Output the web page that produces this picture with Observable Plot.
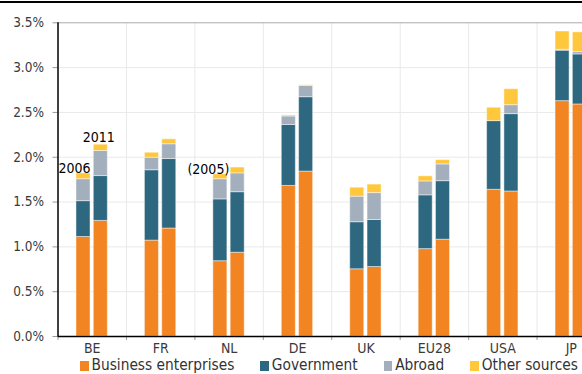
<!DOCTYPE html>
<html>
<head>
<meta charset="utf-8">
<script src="https://cdn.jsdelivr.net/npm/d3@7"></script>
<script src="https://cdn.jsdelivr.net/npm/@observablehq/plot@0.6"></script>
<style>
  html, body { margin: 0; padding: 0; background: #fff; }
  #wrap {
    position: relative; width: 582px; height: 374px; overflow: hidden;
    font-family: "DejaVu Sans Condensed", "DejaVu Sans", sans-serif; font-stretch: condensed;
  }
  #topline { position: absolute; left: 0; top: 1px; width: 582px; height: 2px; background: #000; }
  #chart { position: absolute; left: 0; top: 0; width: 605px; }
  #chart svg { max-width: none !important; }
  #legend {
    position: absolute; left: 80px; top: 359px; display: flex; align-items: center;
    font-size: 15.3px; color: #333; white-space: nowrap; line-height: 13px;
  }
  #legend .item { display: flex; align-items: center; margin-right: 26px; }
  #legend .sw { width: 8.5px; height: 10px; margin-right: 3px; }
</style>
</head>
<body>
<div id="wrap">
  <div id="chart"></div>
  <div id="topline"></div>
  <div id="legend"></div>
</div>
<script>
// R&D expenditure as % of GDP, by source of funds; two periods per country
const countries = ["BE", "FR", "NL", "DE", "UK", "EU28", "USA", "JP"];
const periods = ["2006", "2011"]; // NL's earlier period is 2005
const sources = ["Business enterprises", "Government", "Abroad", "Other sources"];
const colors = ["#F28521", "#2D6880", "#A4AFBD", "#FFC73C"];

// [earlier, later] per country, % of GDP
const business   = [[1.11, 1.29], [1.07, 1.205], [0.84, 0.935], [1.68, 1.84], [0.75, 0.775], [0.975, 1.08], [1.637, 1.618], [2.626, 2.589]];
const government = [[0.40, 0.50], [0.785, 0.775], [0.69, 0.675], [0.68, 0.83], [0.525, 0.525], [0.60, 0.653], [0.766, 0.863], [0.563, 0.558]];
const abroad     = [[0.245, 0.28], [0.14, 0.165], [0.225, 0.21], [0.095, 0.125], [0.285, 0.30], [0.155, 0.187], [0.0, 0.10], [0.01, 0.026]];
const other      = [[0.065, 0.07], [0.055, 0.055], [0.055, 0.065], [0.012, 0.008], [0.10, 0.095], [0.057, 0.048], [0.149, 0.178], [0.204, 0.22]];

// Year labels drawn above the first bars
const notes = [
  {country: "BE", slot: 0, label: "2006", dx: -9, dy: 0},
  {country: "BE", slot: 1, label: "2011", dx: -2, dy: -3},
  {country: "NL", slot: 0, label: "(2005)", dx: -12, dy: 0}
];

// Bar layout within each country's band (fractions of the band)
const barStart = [0.27, 0.523];
const barWidth = 0.205;

const series = [business, government, abroad, other];
const rows = [];
const totals = {};
countries.forEach((country, i) => {
  [0, 1].forEach(slot => {
    let base = 0;
    series.forEach((arr, k) => {
      const v = arr[i][slot];
      rows.push({country, index: i, slot, source: sources[k], y1: base, y2: base + v});
      base += v;
    });
    totals[country + slot] = base;
  });
});

const barX1 = d => d.index + barStart[d.slot];
const barX2 = d => d.index + barStart[d.slot] + barWidth;

const yTicks = d3.range(0, 3.51, 0.5);

const chart = Plot.plot({
  width: 605,
  height: 356,
  marginLeft: 57.5,
  marginRight: 0,
  marginTop: 22.3,
  marginBottom: 20,
  style: {fontFamily: "'DejaVu Sans Condensed', 'DejaVu Sans', sans-serif", fontStretch: "condensed", background: "transparent", maxWidth: "none"},
  x: {domain: [0, countries.length], label: null},
  y: {domain: [0, 3.5], label: null},
  color: {domain: sources, range: colors},
  marks: [
    Plot.gridY({ticks: yTicks.filter(t => t > 0 && t < 3.5), stroke: "#e9e9e9", strokeOpacity: 1}),
    Plot.gridX({ticks: d3.range(1, countries.length + 1), stroke: "#e9e9e9", strokeOpacity: 1}),
    Plot.ruleY([3.5], {stroke: "#aaa"}),
    Plot.rect(rows, {
      x1: barX1, x2: barX2, y1: "y1", y2: "y2", fill: "source",
      stroke: "#fff", strokeOpacity: 0.45, strokeWidth: 1
    }),
    ...notes.map(n => Plot.text([n], {
      x: d => countries.indexOf(d.country) + barStart[d.slot] + barWidth / 2,
      y: d => totals[d.country + d.slot],
      text: "label",
      lineAnchor: "bottom",
      dx: n.dx, dy: n.dy,
      fontSize: 14,
      fill: "#000"
    })),
    Plot.axisY({
      ticks: yTicks, tickFormat: d => d.toFixed(1) + "%",
      tickSize: 5, tickPadding: 9, fontSize: 13.5, stroke: "#999", fill: "#3a3a3a", label: null
    }),
    Plot.axisX({
      ticks: d3.range(0, countries.length + 1), tickFormat: () => "",
      tickSize: 4, stroke: "#999", label: null
    }),
    Plot.axisX({
      ticks: countries.map((c, i) => i + 0.5), tickFormat: d => countries[Math.floor(d)],
      tickSize: 0, tickPadding: 7, fontSize: 14, fill: "#3a3a3a", label: null
    }),
    Plot.ruleY([0], {stroke: "#000", strokeWidth: 1.5}),
    Plot.ruleX([0], {y1: 0, y2: 3.5, stroke: "#000", strokeWidth: 1.5})
  ]
});
document.getElementById("chart").append(chart);

// Legend
const legend = d3.select("#legend");
sources.forEach((s, k) => {
  const item = legend.append("div").attr("class", "item");
  item.append("div").attr("class", "sw").style("background", colors[k]);
  item.append("span").text(s);
});
</script>
</body>
</html>
